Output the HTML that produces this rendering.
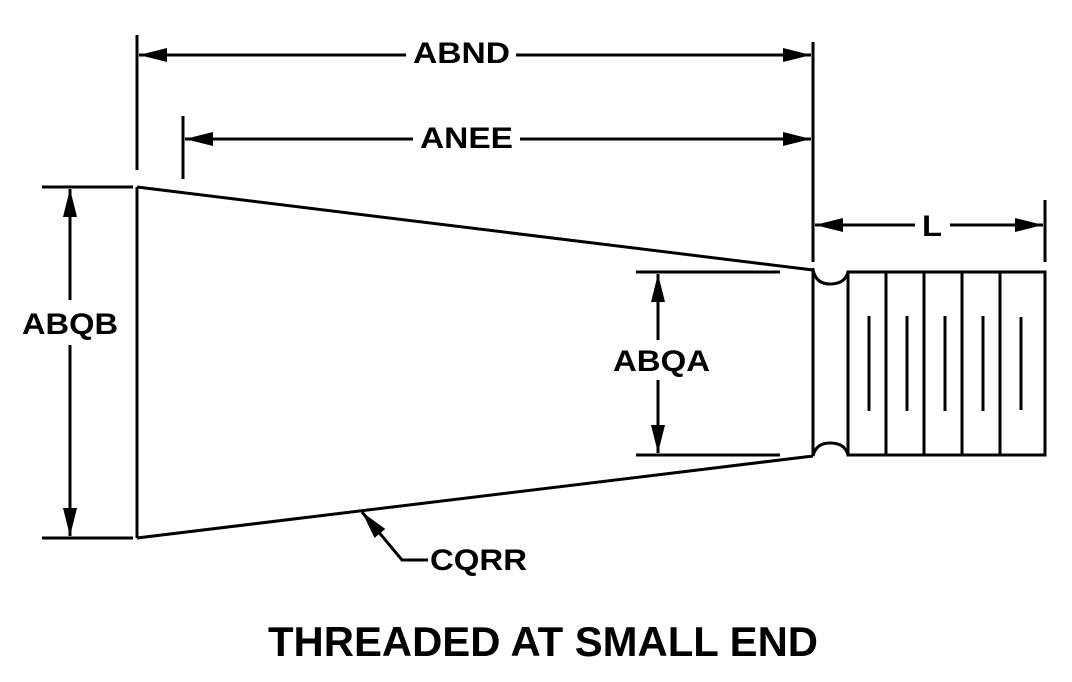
<!DOCTYPE html>
<html><head><style>html,body{margin:0;padding:0;background:#fff;width:1072px;height:682px;overflow:hidden}</style></head>
<body>
<svg width="1072" height="682" viewBox="0 0 1072 682" xmlns="http://www.w3.org/2000/svg">
<defs>
<marker id="a" markerWidth="28" markerHeight="14" refX="0" refY="7" orient="auto" markerUnits="userSpaceOnUse">
<polygon points="0,7 28,0 28,14" fill="#000"/></marker>
</defs>
<g stroke="#000" stroke-width="3" fill="none">
<line x1="137" y1="35" x2="137" y2="170"/>
<line x1="183" y1="116" x2="183" y2="179"/>
<line x1="813" y1="42" x2="813" y2="262"/>
<line x1="1045" y1="200" x2="1045" y2="262"/>
<line x1="42" y1="187" x2="133" y2="187"/>
<line x1="42" y1="538" x2="133" y2="538"/>
<line x1="636" y1="272" x2="780" y2="272"/>
<line x1="636" y1="455" x2="780" y2="455"/>
<line x1="137" y1="187" x2="137" y2="538"/>
<line x1="137" y1="187" x2="813" y2="270"/>
<line x1="137" y1="538" x2="813" y2="456"/>
<line x1="813" y1="268" x2="813" y2="456"/>
<path d="M813,270 Q816,284 830,284 Q845,284 848,272"/>
<path d="M813,456 Q816,443 830,443 Q845,443 848,455"/>
<rect x="848" y="272" width="197" height="183"/>
<line x1="886" y1="272" x2="886" y2="455"/>
<line x1="924" y1="272" x2="924" y2="455"/>
<line x1="962" y1="272" x2="962" y2="455"/>
<line x1="1000" y1="272" x2="1000" y2="455"/>
<line x1="869" y1="316" x2="869" y2="411"/>
<line x1="907" y1="316" x2="907" y2="411"/>
<line x1="945" y1="316" x2="945" y2="411"/>
<line x1="983" y1="316" x2="983" y2="411"/>
<line x1="1021" y1="317" x2="1021" y2="410"/>
<line x1="139" y1="55" x2="406" y2="55" marker-start="url(#a)"/>
<line x1="811" y1="55" x2="516" y2="55" marker-start="url(#a)"/>
<line x1="185" y1="139" x2="413" y2="139" marker-start="url(#a)"/>
<line x1="811" y1="139" x2="520" y2="139" marker-start="url(#a)"/>
<line x1="815" y1="225" x2="915" y2="225" marker-start="url(#a)"/>
<line x1="1043" y1="225" x2="950" y2="225" marker-start="url(#a)"/>
<line x1="70" y1="189" x2="70" y2="300" marker-start="url(#a)"/>
<line x1="70" y1="536" x2="70" y2="345" marker-start="url(#a)"/>
<line x1="658" y1="274" x2="658" y2="340" marker-start="url(#a)"/>
<line x1="658" y1="453" x2="658" y2="380" marker-start="url(#a)"/>
<polyline points="362,512 402,560 428,560" marker-start="url(#a)"/>
</g>
<g font-family="Liberation Sans, sans-serif" font-weight="bold" font-size="30" fill="#000" lengthAdjust="spacingAndGlyphs">
<text x="413" y="63" textLength="97" lengthAdjust="spacingAndGlyphs">ABND</text>
<text x="420" y="148" textLength="93" lengthAdjust="spacingAndGlyphs">ANEE</text>
<text x="922" y="236" textLength="20" lengthAdjust="spacingAndGlyphs">L</text>
<text x="22" y="334" textLength="96" lengthAdjust="spacingAndGlyphs">ABQB</text>
<text x="613" y="371" textLength="97" lengthAdjust="spacingAndGlyphs">ABQA</text>
<text x="430" y="570" textLength="97" lengthAdjust="spacingAndGlyphs">CQRR</text>
<text x="268" y="656" font-size="42" textLength="550" lengthAdjust="spacingAndGlyphs">THREADED AT SMALL END</text>
</g>
</svg>
</body></html>
